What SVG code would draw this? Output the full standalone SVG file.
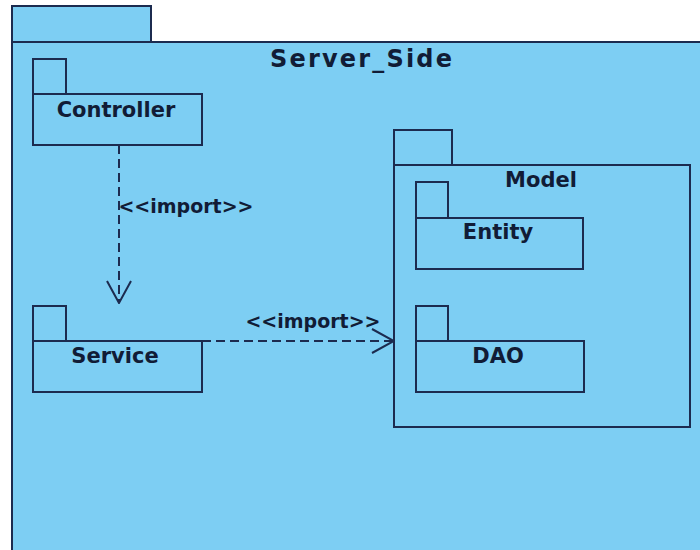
<svg xmlns="http://www.w3.org/2000/svg" width="700" height="550" viewBox="0 0 700 550">
<style>
.pk{fill:#7dcef3;stroke:#1c2b4f;stroke-width:2}
.t{font-family:"DejaVu Sans",Verdana,sans-serif;font-weight:bold;fill:#111c36;text-anchor:middle}
.name{font-size:21px}
.lbl{font-size:19px}
.dep{fill:none;stroke:#1c2b4f;stroke-width:2;stroke-dasharray:9 5}
</style>
<defs>
<marker id="open" viewBox="0 0 24 26" refX="23" refY="13" markerWidth="24" markerHeight="26" markerUnits="userSpaceOnUse" orient="auto">
<path d="M1,1 L23,13 L1,25" fill="none" stroke="#1c2b4f" stroke-width="2" stroke-dasharray="none"/>
</marker>
</defs>
<rect width="700" height="550" fill="#ffffff"/>
<g id="Server_Side">
<rect class="pk" x="12" y="6" width="139" height="36"/>
<rect class="pk" x="12" y="42" width="700" height="520"/>
<text class="t" x="361" y="67" font-size="24" textLength="182" lengthAdjust="spacing">Server_Side</text>
</g>
<g id="Controller">
<rect class="pk" x="33" y="59" width="33" height="35"/>
<rect class="pk" x="33" y="94" width="169" height="51"/>
<text class="t name" x="116" y="117">Controller</text>
</g>
<g id="Service">
<rect class="pk" x="33" y="306" width="33" height="35"/>
<rect class="pk" x="33" y="341" width="169" height="51"/>
<text class="t name" x="115" y="363">Service</text>
</g>
<g id="Model">
<rect class="pk" x="394" y="130" width="58" height="35"/>
<rect class="pk" x="394" y="165" width="296" height="262"/>
<text class="t name" x="541" y="187">Model</text>
</g>
<g id="Entity">
<rect class="pk" x="416" y="182" width="32" height="36"/>
<rect class="pk" x="416" y="218" width="167" height="51"/>
<text class="t name" x="498" y="239">Entity</text>
</g>
<g id="DAO">
<rect class="pk" x="416" y="306" width="32" height="35"/>
<rect class="pk" x="416" y="341" width="168" height="51"/>
<text class="t name" x="498" y="363">DAO</text>
</g>
<g id="connectors">
<path class="dep" d="M119,145 L119,303" marker-end="url(#open)"/>
<text class="t lbl" x="186" y="213">&lt;&lt;import&gt;&gt;</text>
<path class="dep" d="M202,341 L394,341" marker-end="url(#open)"/>
<text class="t lbl" x="313" y="328">&lt;&lt;import&gt;&gt;</text>
</g>
</svg>
